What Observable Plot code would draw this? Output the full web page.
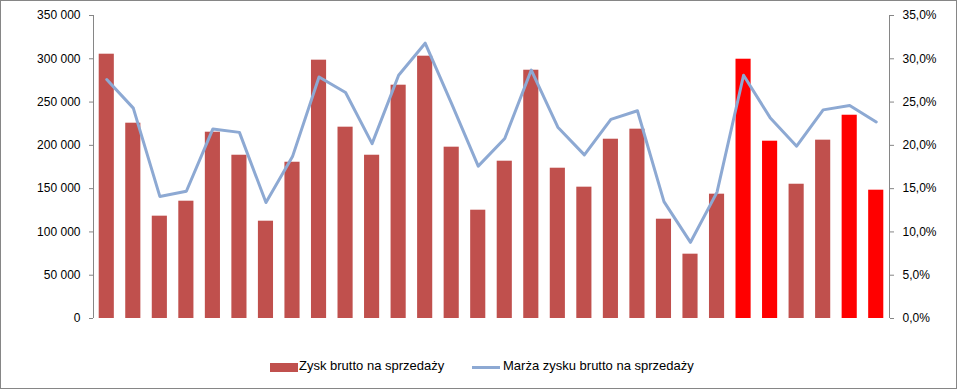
<!DOCTYPE html>
<html><head><meta charset="utf-8">
<script src="https://cdn.jsdelivr.net/npm/d3@7"></script>
<script src="https://cdn.jsdelivr.net/npm/@observablehq/plot@0.6"></script>
<style>
body{margin:0;background:#fff;font-family:"Liberation Sans",Arial,sans-serif;}
#wrap{position:relative;width:957px;height:389px;box-sizing:border-box;border:1px solid #868686;overflow:hidden;background:#fff}
#chart svg{display:block}
.leg{position:absolute;font-size:13px;color:#000;white-space:nowrap}
</style></head>
<body>
<div id="wrap"><div id="chart"></div>
<div class="leg" style="left:269px;top:362px;width:28px;height:9px;background:#C0504D"></div>
<div class="leg" style="left:298px;top:357px;">Zysk brutto na sprzedaży</div>
<div class="leg" style="left:471px;top:365px;width:28px;height:3px;background:#8DA9D3"></div>
<div class="leg" style="left:502px;top:357px;">Marża zysku brutto na sprzedaży</div>
</div>
<script>
const categories = Array.from({length: 30}, (_, i) => String(i + 1));
const profit = [305300, 225600, 118200, 135500, 215200, 188600, 112400, 180500, 298400, 221000,
                188600, 269500, 303000, 197900, 125100, 181700, 286800, 173600, 151700, 207100,
                218700, 114700, 74300, 143600, 299500, 204800, 155100, 206000, 234800, 148200];
const margin = [27.6, 24.3, 14.1, 14.7, 21.9, 21.5, 13.4, 18.7, 27.9, 26.1,
                20.2, 28.1, 31.8, 24.8, 17.6, 20.8, 28.7, 22.1, 18.9, 23.0,
                24.0, 13.5, 8.8, 14.6, 28.1, 23.2, 19.9, 24.1, 24.6, 22.7];
const highlighted = [25, 26, 29, 30];
const leftTicks = [0, 50000, 100000, 150000, 200000, 250000, 300000, 350000];
const rightTicks = [0, 5, 10, 15, 20, 25, 30, 35];

const PCT = 10000; // 1% on right axis == 10 000 on left axis
const data = categories.map((c, i) => ({
  cat: c, profit: profit[i], pct: margin[i],
  fill: highlighted.includes(i + 1) ? "#FF0000" : "#C0504D"
}));
const fmt = d3.formatLocale({thousands: " ", grouping: [3], decimal: ","}).format(",");

// vertical axis lines at both plot edges, from the y scale
function axisLines(index, scales, values, dim) {
  const y0 = scales.y(0), y1 = scales.y(350000);
  const g = d3.create("svg:g").attr("stroke", "#868686").attr("shape-rendering", "crispEdges");
  [dim.marginLeft, dim.width - dim.marginRight].forEach(x =>
    g.append("line").attr("x1", x).attr("x2", x).attr("y1", y0).attr("y2", y1));
  return g.node();
}

const chart = Plot.plot({
  width: 955, height: 335,
  marginLeft: 92, marginRight: 67, marginTop: 14, marginBottom: 18,
  style: {fontSize: "12px", fontFamily: "'Liberation Sans', Arial, sans-serif", color: "#000", background: "#fff"},
  x: {domain: categories, paddingInner: 0.43, paddingOuter: 0.215, round: false, axis: null},
  y: {domain: [0, 350000], axis: null},
  color: {type: "identity"},
  marks: [
    Plot.barY(data, {x: "cat", y: "profit", fill: "fill"}),
    Plot.line(data, {x: "cat", y: d => d.pct * PCT, stroke: "#8DA9D3", strokeWidth: 3}),
    axisLines,
    Plot.axisY(leftTicks, {anchor: "left", tickSize: 4, tickPadding: 9, stroke: "#868686", label: null, tickFormat: fmt}),
    Plot.axisY(rightTicks.map(t => t * PCT), {anchor: "right", tickSize: 4, tickPadding: 9, stroke: "#868686", label: null,
      tickFormat: d => (d / PCT).toFixed(1).replace(".", ",") + "%"})
  ]
});
document.getElementById("chart").appendChild(chart);
</script>
</body></html>
